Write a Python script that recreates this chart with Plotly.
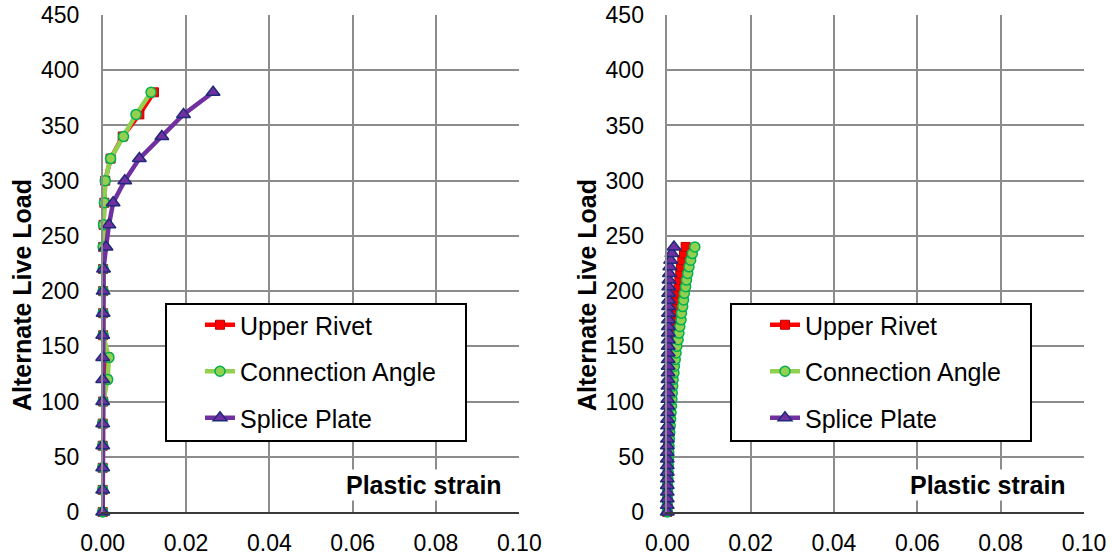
import plotly.graph_objects as go

# ---------------- data ----------------
# Left panel: load steps of 20
load_left = [0, 20, 40, 60, 80, 100, 120, 140, 160, 180, 200, 220, 240, 260, 280, 300, 320, 340, 360, 380]
rivet_left = [0, 0, 0, 0, 0, 0.0001, 0.0009, 0.0012, 0.0001, 0.0001, 0.0001, 0.0001, 0.0001, 0.0002, 0.0004, 0.0006, 0.0019, 0.0048, 0.0088, 0.0123]
angle_left = [0, 0, 0, 0, 0, 0.0001, 0.0012, 0.0015, 0.0001, 0.0001, 0.0001, 0.0001, 0.0001, 0.0002, 0.0004, 0.0006, 0.0019, 0.0050, 0.0080, 0.0116]
splice_left = [0, 0, 0, 0, 0, 0, 0, 0, 0, 0.0001, 0.0001, 0.0002, 0.0008, 0.0015, 0.0025, 0.0053, 0.0088, 0.0142, 0.0194, 0.0265]

# Right panel: load steps of 6
load_right = [0, 6, 12, 18, 24, 30, 36, 42, 48, 54, 60, 66, 72, 78, 84, 90, 96, 102, 108, 114, 120,
              126, 132, 138, 144, 150, 156, 162, 168, 174, 180, 186, 192, 198, 204, 210, 216, 222, 228, 234, 240]
rivet_right = [0, 0.00001, 0.00002, 0.00004, 0.00006, 0.00008, 0.00011, 0.00014, 0.00017, 0.0002, 0.00025,
               0.0003, 0.00035, 0.0004, 0.00045, 0.0005, 0.00055, 0.0006, 0.00065, 0.0007, 0.0008,
               0.0009, 0.001, 0.0011, 0.0012, 0.0013, 0.0015, 0.0016, 0.0017, 0.0019, 0.002,
               0.0022, 0.0023, 0.0025, 0.0027, 0.0029, 0.0031, 0.0033, 0.0036, 0.004, 0.0044]
angle_right = [0, 0.00002, 0.00004, 0.00007, 0.0001, 0.00015, 0.0002, 0.00025, 0.0003, 0.00035, 0.0004,
               0.0005, 0.0006, 0.0007, 0.0008, 0.0009, 0.001, 0.0011, 0.0012, 0.0013, 0.0014,
               0.0016, 0.0017, 0.0019, 0.0021, 0.0023, 0.0026, 0.0028, 0.003, 0.0033, 0.0034,
               0.0037, 0.0039, 0.0041, 0.0044, 0.0046, 0.0049, 0.0052, 0.0056, 0.006, 0.0066]
splice_right = [0, 0, 0, 0, 0, 0, 0, 0, 0, 0, 0.00002,
                0.00003, 0.00004, 0.00006, 0.00008, 0.0001, 0.0001, 0.00012, 0.00014, 0.00016, 0.00018,
                0.0002, 0.00021, 0.00022, 0.00023, 0.00024, 0.00025, 0.00026, 0.00027, 0.00028, 0.00029,
                0.0003, 0.00031, 0.00033, 0.00035, 0.0004, 0.0005, 0.0006, 0.0008, 0.0011, 0.0016]

series_names = ["Upper Rivet", "Connection Angle", "Splice Plate"]
x_ticks = [0, 0.02, 0.04, 0.06, 0.08, 0.10]
y_ticks = [0, 50, 100, 150, 200, 250, 300, 350, 400, 450]
y_title = "Alternate Live Load"
x_title = "Plastic strain"

# ---------------- styles ----------------
W, H = 1112, 556
FONT = "Arial, Liberation Sans, sans-serif"
styles = [
    dict(line=dict(color="#FF0000", width=4.5),
         marker=dict(symbol="square", size=9, color="#FF0000", line=dict(color="#C00000", width=1))),
    dict(line=dict(color="#92D050", width=4.5),
         marker=dict(symbol="circle", size=10, color="#92D050", line=dict(color="#00B050", width=1.5))),
    dict(line=dict(color="#7030A0", width=4.5),
         marker=dict(symbol="triangle-up", size=12, color="#7030A0", line=dict(color="#1F2A7A", width=1.5))),
]

def px_x(p):
    return p / W

def px_y(p):
    return (H - p) / H

fig = go.Figure()
panels = [
    ("x", "y", "legend", load_left, [rivet_left, angle_left, splice_left]),
    ("x2", "y2", "legend2", load_right, [rivet_right, angle_right, splice_right]),
]
for pi, (xa, ya, lg, loads, vals) in enumerate(panels):
    for si, (name, v) in enumerate(zip(series_names, vals)):
        fig.add_trace(go.Scatter(
            x=v, y=loads, name=name, mode="lines+markers",
            xaxis=xa, yaxis=ya, legend=lg, legendgroup=f"g{pi}{si}",
            line=styles[si]["line"], marker=styles[si]["marker"],
            cliponaxis=False,
        ))

axis_common_x = dict(range=[0, 0.1], tickvals=x_ticks, tickformat=".2f", automargin=False,
                     showgrid=True, gridcolor="#8C8C8C", gridwidth=1.5,
                     showline=True, linecolor="#3A3A3A", linewidth=1.5, zeroline=False,
                     ticks="", tickfont=dict(family=FONT, size=23, color="#000000"),
                     ticklabelstandoff=10, fixedrange=True)
axis_common_y = dict(range=[0, 450], tickvals=y_ticks, automargin=False,
                     showgrid=True, gridcolor="#8C8C8C", gridwidth=1.5,
                     showline=True, linecolor="#8C8C8C", linewidth=1.5, zeroline=False,
                     ticks="", tickfont=dict(family=FONT, size=23, color="#000000"),
                     ticklabelstandoff=17, fixedrange=True)

ydom = [px_y(512), px_y(15)]
fig.update_layout(
    template="none",
    width=W, height=H,
    margin=dict(l=0, r=0, t=0, b=0, pad=0, autoexpand=False),
    paper_bgcolor="white", plot_bgcolor="white",
    showlegend=True,
    xaxis=dict(domain=[px_x(102.7), px_x(519.3)], anchor="y", **axis_common_x),
    yaxis=dict(domain=ydom, anchor="x", **axis_common_y),
    xaxis2=dict(domain=[px_x(667.3), px_x(1084)], anchor="y2", **axis_common_x),
    yaxis2=dict(domain=ydom, anchor="x2", **axis_common_y),
    legend=dict(x=px_x(200), y=px_y(302), xanchor="left", yanchor="top",
                bgcolor="rgba(0,0,0,0)", borderwidth=0, tracegroupgap=11,
                font=dict(family=FONT, size=25, color="#000000")),
    legend2=dict(x=px_x(765), y=px_y(302), xanchor="left", yanchor="top",
                 bgcolor="rgba(0,0,0,0)", borderwidth=0, tracegroupgap=11,
                 font=dict(family=FONT, size=25, color="#000000")),
)

# legend boxes
for (x0, x1) in [(166, 466), (731, 1031)]:
    fig.add_shape(type="rect", xref="paper", yref="paper",
                  x0=px_x(x0), x1=px_x(x1), y0=px_y(441), y1=px_y(304),
                  line=dict(color="#000000", width=2), fillcolor="white", layer="above")

# axis titles
for cx in [423.5, 988]:
    fig.add_annotation(text=f"<b>{x_title}</b>", xref="paper", yref="paper",
                       x=px_x(cx), y=px_y(485), xanchor="center", yanchor="middle",
                       showarrow=False, bgcolor="white",
                       font=dict(family=FONT, size=25, color="#000000"))
for cx in [22, 587]:
    fig.add_annotation(text=f"<b>{y_title}</b>", xref="paper", yref="paper",
                       x=px_x(cx), y=px_y(295), xanchor="center", yanchor="middle",
                       showarrow=False, textangle=-90,
                       font=dict(family=FONT, size=25, color="#000000"))

fig.write_html(
    "out.html",
    config={"displayModeBar": False},
    post_script="document.body.style.margin='0';document.body.style.overflow='hidden';",
)
